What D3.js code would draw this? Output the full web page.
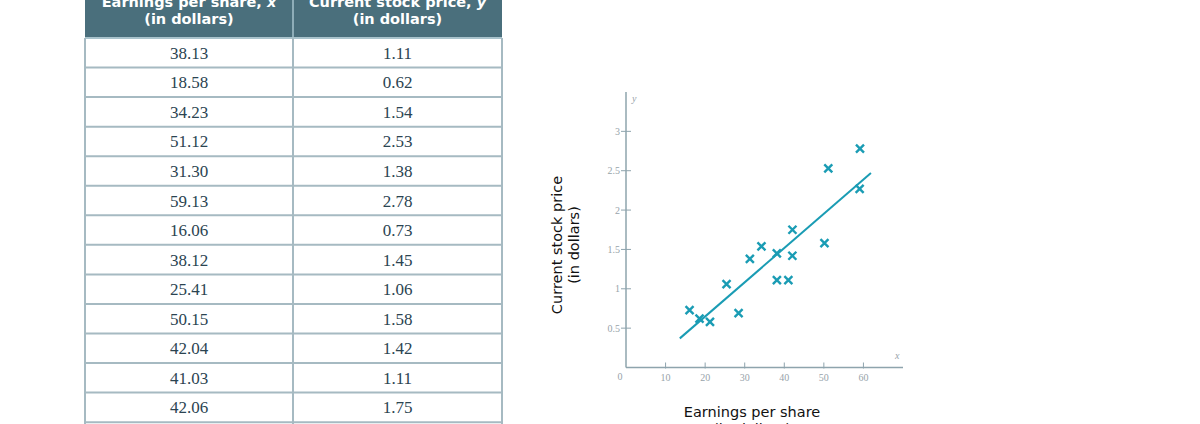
<!DOCTYPE html>
<html>
<head>
<meta charset="utf-8">
<script src="https://cdn.jsdelivr.net/npm/d3@7"></script>
<style>
  html, body { margin: 0; padding: 0; background: #fff; overflow: hidden; }
  svg { display: block; }
</style>
</head>
<body>
<div id="chart"></div>
<script>
// Datos de la tabla (las 3 últimas filas quedan fuera de la imagen)
const earnings = [38.13, 18.58, 34.23, 51.12, 31.30, 59.13, 16.06, 38.12, 25.41, 50.15, 42.04, 41.03, 42.06, 21.22, 28.45, 59.04];
const prices   = [1.11, 0.62, 1.54, 2.53, 1.38, 2.78, 0.73, 1.45, 1.06, 1.58, 1.42, 1.11, 1.75, 0.58, 0.69, 2.27];
const earningsLabels = ['38.13', '18.58', '34.23', '51.12', '31.30', '59.13', '16.06', '38.12', '25.41', '50.15', '42.04', '41.03', '42.06', '21.22', '28.45', '59.04'];
const pricesLabels   = ['1.11', '0.62', '1.54', '2.53', '1.38', '2.78', '0.73', '1.45', '1.06', '1.58', '1.42', '1.11', '1.75', '0.58', '0.69', '2.27'];

// Recta de regresión (extremos)
const lineX = [13.6, 61.9];
const lineY = [0.37, 2.47];

const xTicks = [10, 20, 30, 40, 50, 60];
const yTicks = [0.5, 1, 1.5, 2, 2.5, 3];

const width = 1200, height = 424;
const teal = '#1a9cb4', axisCol = '#8ea4ad', tickTxt = '#97a3aa';

const svg = d3.select('#chart').append('svg')
    .attr('width', width)
    .attr('height', height);

//Tabla
const tLeft = 85, tMid = 293, tRight = 502, headBottom = 38, rowH = 29.55;
const tbl = svg.append('g');

tbl.append('rect')
    .attr('x', tLeft).attr('y', -20)
    .attr('width', tRight - tLeft).attr('height', headBottom + 20)
    .attr('fill', '#4a6f7c');

tbl.append('line')
    .attr('x1', tMid).attr('x2', tMid).attr('y1', -20).attr('y2', headBottom)
    .attr('stroke', '#8eadb8').attr('stroke-width', 2);

const headers = [
    {cx: (tLeft + tMid) / 2, t1: 'Earnings per share, ', v: 'x'},
    {cx: (tMid + tRight) / 2, t1: 'Current stock price, ', v: 'y'}
];
headers.forEach(h => {
    const t = tbl.append('text')
        .attr('x', h.cx).attr('y', 7)
        .attr('text-anchor', 'middle')
        .attr('fill', '#fff')
        .style('font', 'bold 14.5px "DejaVu Sans", Verdana, sans-serif');
    t.append('tspan').text(h.t1);
    t.append('tspan').style('font-style', 'italic').text(h.v);
    tbl.append('text')
        .attr('x', h.cx).attr('y', 24)
        .attr('text-anchor', 'middle')
        .attr('fill', '#fff')
        .style('font', 'bold 14.5px "DejaVu Sans", Verdana, sans-serif')
        .text('(in dollars)');
});

const rows = tbl.selectAll('g.row')
    .data(earningsLabels.map((e, i) => ({e, p: pricesLabels[i], i})))
    .enter().append('g')
    .attr('class', 'row')
    .attr('transform', d => `translate(0,${headBottom + d.i * rowH})`);

rows.append('text')
    .attr('x', (tLeft + tMid) / 2).attr('y', rowH / 2 + 6)
    .attr('text-anchor', 'middle')
    .attr('fill', '#2b4451')
    .style('font', '17px "Liberation Serif", "Times New Roman", serif')
    .text(d => d.e);

rows.append('text')
    .attr('x', (tMid + tRight) / 2).attr('y', rowH / 2 + 6)
    .attr('text-anchor', 'middle')
    .attr('fill', '#2b4451')
    .style('font', '17px "Liberation Serif", "Times New Roman", serif')
    .text(d => d.p);

rows.append('line')
    .attr('x1', tLeft).attr('x2', tRight)
    .attr('y1', rowH).attr('y2', rowH)
    .attr('stroke', '#a6bac2').attr('stroke-width', 2);

tbl.append('line')
    .attr('x1', tLeft).attr('x2', tRight).attr('y1', headBottom).attr('y2', headBottom)
    .attr('stroke', '#a9c3cc').attr('stroke-width', 2);

[tLeft, tMid, tRight].forEach(x => {
    tbl.append('line')
        .attr('x1', x).attr('x2', x)
        .attr('y1', headBottom).attr('y2', headBottom + earnings.length * rowH)
        .attr('stroke', '#a6bac2').attr('stroke-width', 2);
});

//Gráfico de dispersión
const x = d3.scaleLinear().domain([0, 70]).range([626, 903]);
const y = d3.scaleLinear().domain([0, 3.5]).range([367.5, 92]);

const plot = svg.append('g');

// ejes
plot.append('line')
    .attr('x1', x(0)).attr('x2', x(0)).attr('y1', y(3.5)).attr('y2', y(0))
    .attr('stroke', axisCol).attr('stroke-width', 1.5);
plot.append('line')
    .attr('x1', x(0)).attr('x2', x(70)).attr('y1', y(0)).attr('y2', y(0))
    .attr('stroke', axisCol).attr('stroke-width', 1.5);

plot.selectAll('.ytick')
    .data(yTicks).enter().append('line')
    .attr('x1', x(0) - 5).attr('x2', x(0) + 5)
    .attr('y1', d => y(d)).attr('y2', d => y(d))
    .attr('stroke', axisCol).attr('stroke-width', 1);

plot.selectAll('.ylab')
    .data(yTicks).enter().append('text')
    .attr('x', x(0) - 6).attr('y', d => y(d) + 3.5)
    .attr('text-anchor', 'end')
    .attr('fill', tickTxt)
    .style('font', '10px "Liberation Serif", serif')
    .text(d => d);

plot.selectAll('.xtick')
    .data(xTicks).enter().append('line')
    .attr('x1', d => x(d)).attr('x2', d => x(d))
    .attr('y1', y(0) - 5).attr('y2', y(0) + 1)
    .attr('stroke', axisCol).attr('stroke-width', 1);

plot.selectAll('.xlab')
    .data(xTicks).enter().append('text')
    .attr('x', d => x(d)).attr('y', y(0) + 13)
    .attr('text-anchor', 'middle')
    .attr('fill', tickTxt)
    .style('font', '10px "Liberation Serif", serif')
    .text(d => d);

plot.append('text')
    .attr('x', x(0) - 6).attr('y', y(0) + 12)
    .attr('text-anchor', 'middle')
    .attr('fill', tickTxt)
    .style('font', '10px "Liberation Serif", serif')
    .text('0');

plot.append('text')
    .attr('x', x(0) + 6).attr('y', y(3.5) + 10)
    .attr('fill', tickTxt)
    .style('font', 'italic 10px "Liberation Serif", serif')
    .text('y');

plot.append('text')
    .attr('x', x(68)).attr('y', y(0) - 9)
    .attr('fill', tickTxt)
    .style('font', 'italic 10px "Liberation Serif", serif')
    .text('x');

// recta
plot.append('line')
    .attr('x1', x(lineX[0])).attr('y1', y(lineY[0]))
    .attr('x2', x(lineX[1])).attr('y2', y(lineY[1]))
    .attr('stroke', teal).attr('stroke-width', 2);

// puntos
const s = 4;
const pts = plot.selectAll('.pt')
    .data(earnings.map((e, i) => [e, prices[i]]))
    .enter().append('path')
    .attr('d', d => {
        const cx = x(d[0]), cy = y(d[1]);
        return `M${cx - s},${cy - s}L${cx + s},${cy + s}M${cx - s},${cy + s}L${cx + s},${cy - s}`;
    })
    .attr('stroke', teal).attr('stroke-width', 2.4).attr('fill', 'none');

// títulos de ejes
const yt = svg.append('text')
    .attr('transform', 'translate(0,0)')
    .attr('fill', '#111')
    .style('font', '14.5px "DejaVu Sans", Verdana, sans-serif')
    .attr('text-anchor', 'middle');
yt.append('tspan').attr('x', -245).attr('y', 562).text('Current stock price');
yt.append('tspan').attr('x', -245).attr('y', 579).text('(in dollars)');
yt.attr('transform', 'rotate(-90)');

svg.append('text')
    .attr('x', 752).attr('y', 417)
    .attr('text-anchor', 'middle')
    .attr('fill', '#111')
    .style('font', '14.5px "DejaVu Sans", Verdana, sans-serif')
    .text('Earnings per share');
svg.append('text')
    .attr('x', 752).attr('y', 434)
    .attr('text-anchor', 'middle')
    .attr('fill', '#111')
    .style('font', '14.5px "DejaVu Sans", Verdana, sans-serif')
    .text('(in dollars)');
</script>
</body>
</html>
